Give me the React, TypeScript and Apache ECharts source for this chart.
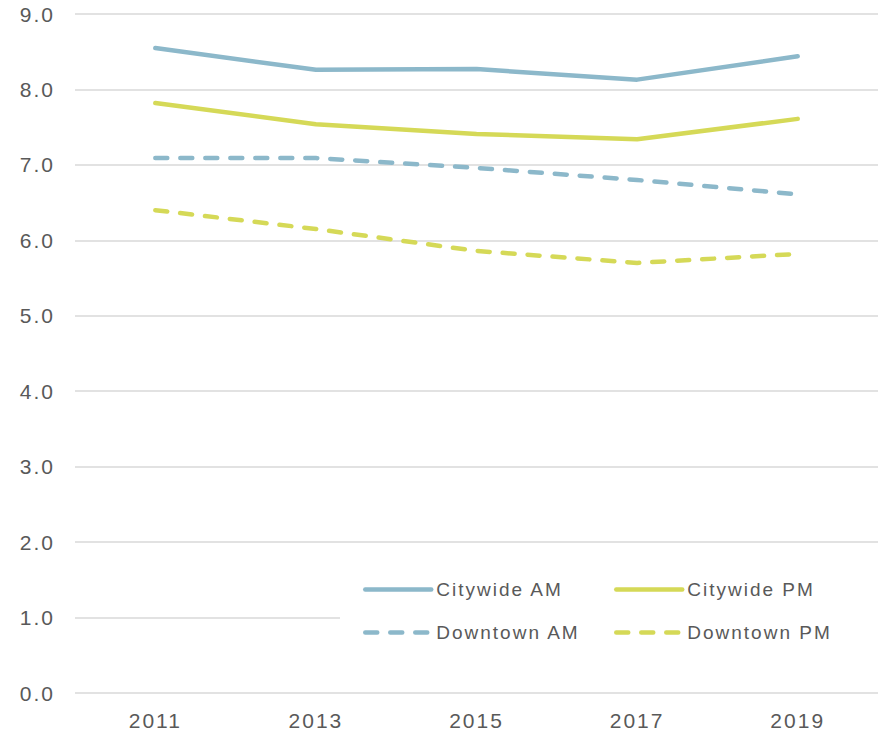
import React, { useEffect, useRef } from "react";
import * as echarts from "echarts";

const years = ["2011", "2013", "2015", "2017", "2019"];
const citywideAM = [8.55, 8.26, 8.27, 8.13, 8.44];
const citywidePM = [7.82, 7.54, 7.41, 7.34, 7.61];
const downtownAM = [7.09, 7.09, 6.96, 6.80, 6.61];
const downtownPM = [6.40, 6.15, 5.86, 5.70, 5.82];
const yTicks = { min: 0, max: 9, interval: 1 };

const BLUE = "#8CB8CA";
const YELLOW = "#D5D957";
const FONT = "Liberation Sans";

export default function App() {
  const ref = useRef<HTMLDivElement>(null);
  useEffect(() => {
    if (!ref.current) return;
    const chart = echarts.init(ref.current, undefined, { renderer: "svg" });
    const dash = [12, 13];
    const mk = (name: string, data: number[], color: string, dashed: boolean) => ({
      name,
      type: "line",
      data,
      symbol: "none",
      z: 3,
      lineStyle: {
        color,
        width: 4.5,
        type: dashed ? dash : "solid",
        cap: "round",
        join: "round",
      },
      itemStyle: { color },
    });
    const legendCommon = {
      orient: "vertical",
      top: 580,
      itemWidth: 66,
      itemHeight: 20,
      itemGap: 24,
      padding: 0,
      z: 10,
      textStyle: { fontFamily: FONT, fontSize: 19, color: "#595959" },
      itemStyle: { opacity: 0 },
      lineStyle: { width: 4.5, cap: "round" },
    };
    chart.setOption({
      animation: false,
      grid: { left: 75, right: 7, top: 14, bottom: 41, containLabel: false },
      xAxis: {
        type: "category",
        data: years,
        boundaryGap: true,
        axisLine: { show: false },
        axisTick: { show: false },
        axisLabel: { fontFamily: FONT, fontSize: 21, color: "#595959", margin: 17 },
      },
      yAxis: {
        type: "value",
        min: yTicks.min,
        max: yTicks.max,
        interval: yTicks.interval,
        axisLine: { show: false },
        axisTick: { show: false },
        axisLabel: {
          fontFamily: FONT,
          fontSize: 21,
          color: "#595959",
          margin: 20,
          formatter: (v: number) => v.toFixed(1),
        },
        splitLine: { lineStyle: { color: "#D9D9D9", width: 1.5 } },
      },
      graphic: [
        {
          type: "rect",
          left: 340,
          top: 566,
          shape: { width: 545, height: 90 },
          style: { fill: "#ffffff" },
          z: 5,
        },
      ],
      legend: [
        { ...legendCommon, left: 363, data: ["Citywide AM", "Downtown AM"] },
        { ...legendCommon, left: 614, data: ["Citywide PM", "Downtown PM"] },
      ],
      series: [
        mk("Citywide AM", citywideAM, BLUE, false),
        mk("Citywide PM", citywidePM, YELLOW, false),
        mk("Downtown AM", downtownAM, BLUE, true),
        mk("Downtown PM", downtownPM, YELLOW, true),
      ],
    });
    return () => chart.dispose();
  }, []);
  return (
    <div
      ref={ref}
      style={{
        position: "fixed",
        left: 0,
        top: 0,
        width: 885,
        height: 734,
        background: "#fff",
        letterSpacing: "2px",
      }}
    />
  );
}
